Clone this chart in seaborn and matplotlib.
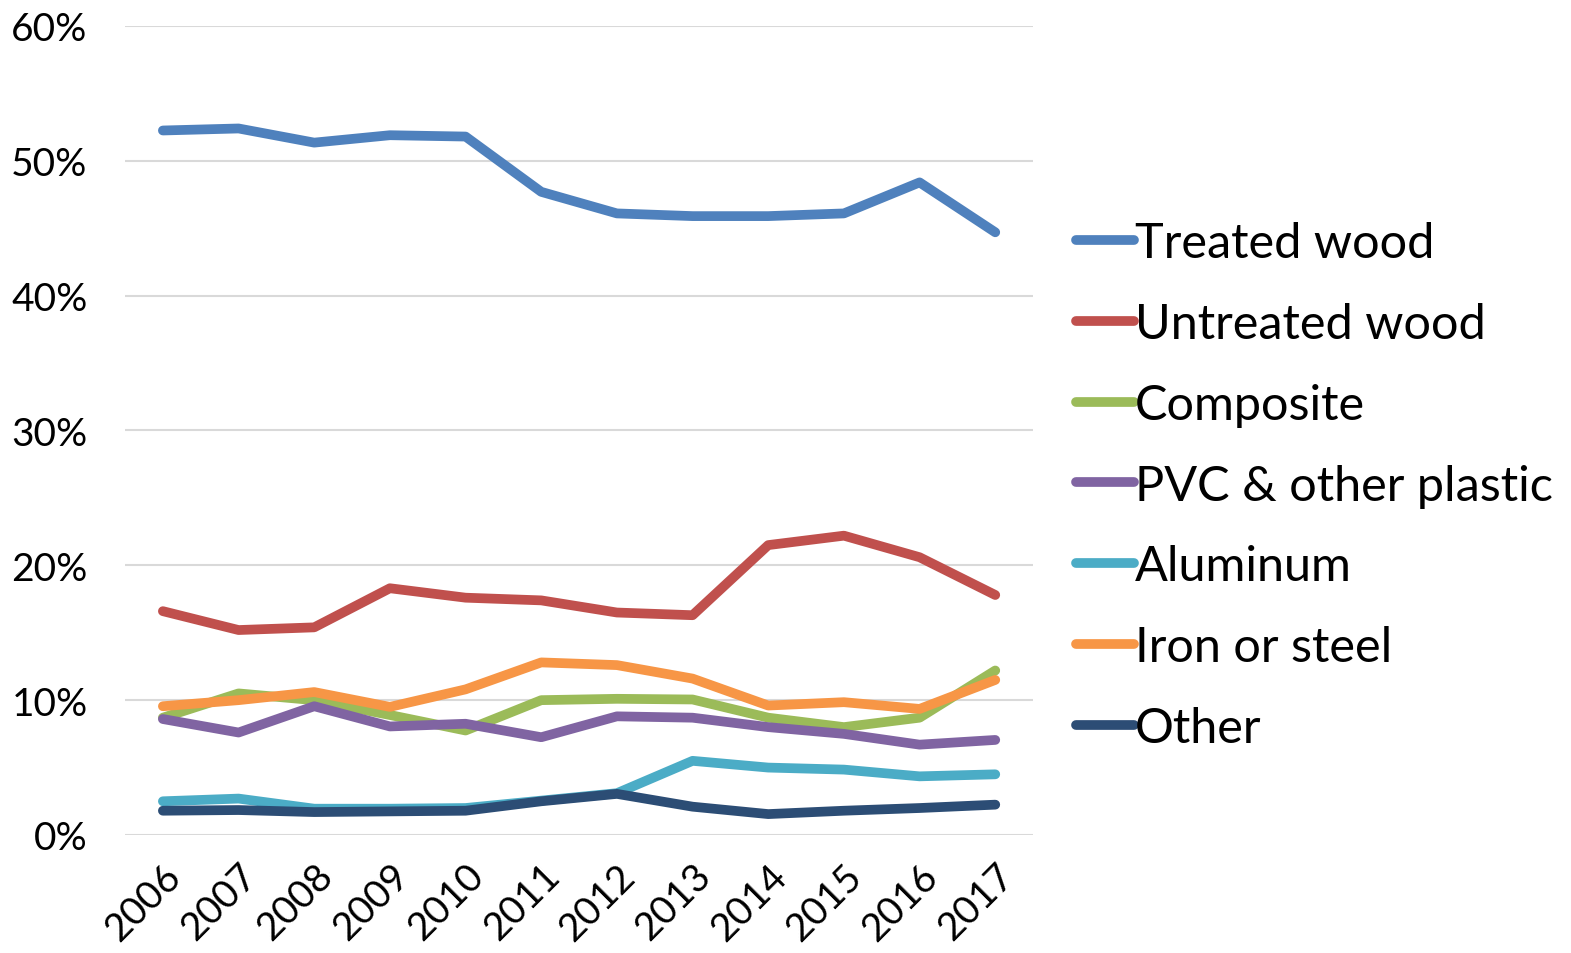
import numpy as np
import pandas as pd
import seaborn as sns
import matplotlib.pyplot as plt
from matplotlib.ticker import PercentFormatter

years = [str(y) for y in range(2006, 2018)]

treated_wood = [52.25, 52.4, 51.35, 51.9, 51.8, 47.7, 46.1, 45.9, 45.9, 46.1, 48.4, 44.7]
untreated_wood = [16.6, 15.2, 15.4, 18.3, 17.6, 17.4, 16.5, 16.3, 21.5, 22.2, 20.6, 17.8]
composite = [8.7, 10.5, 10.0, 8.9, 7.75, 10.0, 10.1, 10.05, 8.7, 8.0, 8.7, 12.2]
pvc_plastic = [8.6, 7.6, 9.55, 8.05, 8.25, 7.25, 8.8, 8.7, 8.0, 7.5, 6.7, 7.05]
aluminum = [2.5, 2.7, 1.95, 1.95, 2.0, 2.55, 3.1, 5.5, 5.0, 4.85, 4.35, 4.5]
iron_steel = [9.55, 10.0, 10.6, 9.5, 10.8, 12.8, 12.6, 11.6, 9.6, 9.85, 9.35, 11.5]
other = [1.8, 1.85, 1.7, 1.75, 1.8, 2.5, 3.05, 2.1, 1.55, 1.8, 2.0, 2.25]

series = {
    'Treated wood': treated_wood,
    'Untreated wood': untreated_wood,
    'Composite': composite,
    'PVC & other plastic': pvc_plastic,
    'Aluminum': aluminum,
    'Iron or steel': iron_steel,
    'Other': other,
}
colors = ['#4F81BD', '#C0504D', '#9BBB59', '#8064A2', '#4BACC6', '#F79646', '#2C4D75']

sns.set_style('white')
plt.rcParams['font.family'] = ['Lato', 'DejaVu Sans']

df = pd.DataFrame(series)
df['year'] = np.arange(len(years))
long_df = df.melt(id_vars='year', var_name='material', value_name='share')

fig = plt.figure(figsize=(15.71, 9.54), dpi=100)
ax = fig.add_axes([0.0796, 0.1237, 0.578, 0.848])

sns.lineplot(data=long_df, x='year', y='share', hue='material',
             hue_order=list(series.keys()), palette=colors,
             linewidth=7, solid_capstyle='round', ax=ax, legend=True)

ax.set_xlim(-0.5, len(years) - 0.5)
ax.set_ylim(0, 60)
ax.set_yticks(range(0, 61, 10))
ax.yaxis.set_major_formatter(PercentFormatter(decimals=0))
ax.set_xticks(range(len(years)))
ax.set_xticklabels(years, rotation=45, ha='right', rotation_mode='anchor')
ax.tick_params(axis='both', labelsize=28, length=0, labelcolor='black')
ax.tick_params(axis='x', pad=16)
ax.tick_params(axis='y', pad=27)
ax.grid(axis='y', color='#D9D9D9', linewidth=1.5)
ax.set_axisbelow(True)
for s in ax.spines.values():
    s.set_visible(False)
ax.set_xlabel('')
ax.set_ylabel('')

handles, labels = ax.get_legend_handles_labels()
leg = ax.legend(handles, labels, loc='center left', bbox_to_anchor=(1.0255, 0.432),
                frameon=False, fontsize=35, handlelength=1.2, handletextpad=0.02,
                labelspacing=0.76, borderaxespad=0)
for text in leg.get_texts():
    text.set_color('black')
for line in leg.get_lines():
    line.set_linewidth(7)
    line.set_solid_capstyle('round')

fig.savefig('out.png', dpi=100)
